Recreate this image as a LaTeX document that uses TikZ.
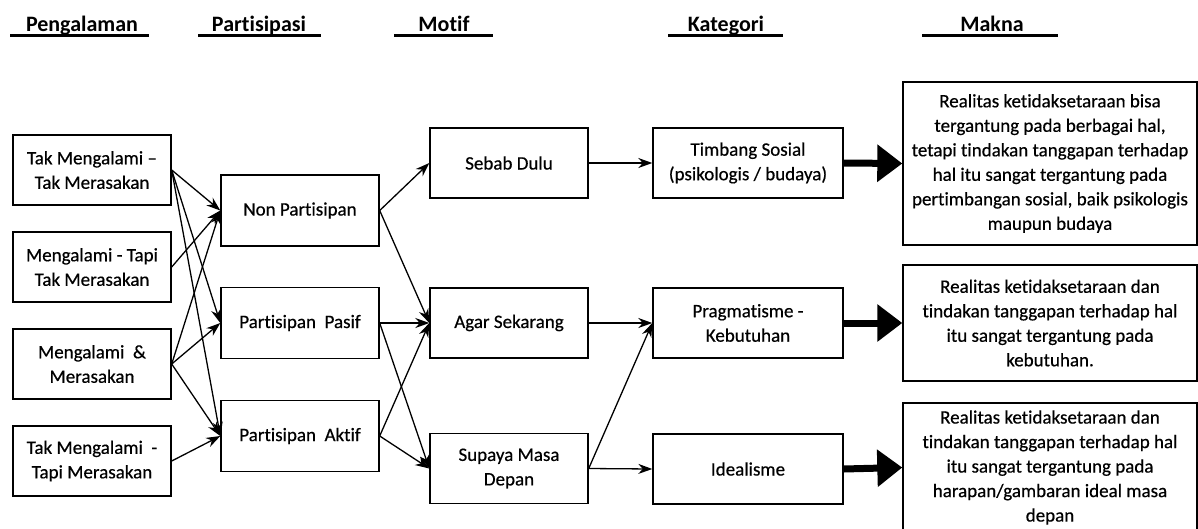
\documentclass[tikz,border=0pt]{standalone}
\usepackage{fontspec}
\setmainfont[Ligatures=NoCommon]{Carlito}
\newfontfamily\boxfont[FakeBold=0.5,Ligatures=NoCommon]{Carlito}
\usetikzlibrary{arrows.meta}
\begin{document}
\begin{tikzpicture}[x=1pt,y=-1pt,
  box/.style={draw, line width=1.4pt, inner sep=2pt, align=center, font=\boxfont\fontsize{19}{24.5}\selectfont},
  cbox/.style={box, minimum width=158pt, minimum height=70pt},
  kbox/.style={box, minimum width=190pt, minimum height=70pt},
  mbox/.style={box, minimum width=294pt},
  hdr/.style={font=\fontsize{22}{25}\selectfont\bfseries, anchor=base, inner sep=0pt},
  conn/.style={line width=1.3pt, -{Stealth[length=14pt,width=10pt,inset=4.5pt]}},
  bigarrow/.style={line width=7pt, -{Triangle[length=25pt,width=36pt]}},
  uline/.style={line width=2.2pt}
]
\useasboundingbox (0,0) rectangle (1198,528);

% headers
\node[hdr] (h1) at (82,31) {Pengalaman};
\node[hdr] (h2) at (259,31) {Partisipasi};
\node[hdr] (h3) at (444,31) {Motif};
\node[hdr] (h4) at (726,31) {Kategori};
\node[hdr] (h5) at (992,31) {Makna};
\draw[uline] (10,35.5) -- (149,35.5);
\draw[uline] (198,35.5) -- (321,35.5);
\draw[uline] (394,35.5) -- (493,35.5);
\draw[uline] (668,35.5) -- (783,35.5);
\draw[uline] (922,35.5) -- (1058,35.5);

% column 1
\node[cbox] (e1) at (92,170) {Tak Mengalami –\\Tak Merasakan};
\node[cbox] (e2) at (92,267) {Mengalami - Tapi\\Tak Merasakan};
\node[cbox] (e3) at (92,364) {Mengalami \ \&\\Merasakan};
\node[cbox] (e4) at (92,461) {Tak Mengalami \ -\\Tapi Merasakan};

% column 2
\node[cbox, minimum height=71pt] (p1) at (300,210.5) {Non Partisipan};
\node[cbox, minimum height=71pt] (p2) at (300,323) {Partisipan \ Pasif};
\node[cbox, minimum height=71pt] (p3) at (300,436) {Partisipan \ Aktif};

% column 3
\node[cbox] (m1) at (509,163) {Sebab Dulu};
\node[cbox] (m2) at (509,323) {Agar Sekarang};
\node[cbox] (m3) at (509,468.5) {Supaya Masa\\Depan};

% column 4
\node[kbox] (k1) at (748,163) {Timbang Sosial\\(psikologis / budaya)};
\node[kbox] (k2) at (748,323) {Pragmatisme -\\Kebutuhan};
\node[kbox] (k3) at (748,469) {Idealisme};

% column 5
\node[mbox, minimum height=163pt] (r1) at (1050,163.5) {Realitas ketidaksetaraan bisa\\tergantung pada berbagai hal,\\tetapi tindakan tanggapan terhadap\\hal itu sangat tergantung pada\\pertimbangan sosial, baik psikologis\\maupun budaya};
\node[mbox, minimum height=116pt] (r2) at (1050,323) {Realitas ketidaksetaraan dan\\tindakan tanggapan terhadap hal\\itu sangat tergantung pada\\kebutuhan.};
\node[mbox, minimum height=129pt] (r3) at (1050,467.5) {Realitas ketidaksetaraan dan\\tindakan tanggapan terhadap hal\\itu sangat tergantung pada\\harapan/gambaran ideal masa\\depan};

% connectors column 1 -> 2
\draw[conn] (e1.east) -- (p1.west);
\draw[conn] (e1.east) -- (p2.west);
\draw[conn] (e1.east) -- (p3.west);
\draw[conn] (e2.east) -- (p1.west);
\draw[conn] (e3.east) -- (p1.west);
\draw[conn] (e3.east) -- (p2.west);
\draw[conn] (e3.east) -- (p3.west);
\draw[conn] (e4.east) -- (p3.west);

% column 2 -> 3
\draw[conn] (p1.east) -- (m1.west);
\draw[conn] (p1.east) -- (m2.west);
\draw[conn] (p2.east) -- (m2.west);
\draw[conn] (p2.east) -- (m3.west);
\draw[conn] (p3.east) -- (m2.west);
\draw[conn] (p3.east) -- (m3.west);

% column 3 -> 4
\draw[conn] (m1.east) -- (k1.west);
\draw[conn] (m2.east) -- (k2.west);
\draw[conn] (m3.east) -- (k2.west);
\draw[conn] (m3.east) -- (k3.west);

% column 4 -> 5
\draw[bigarrow] (k1.east) -- (r1.west);
\draw[bigarrow] (k2.east) -- (r2.west);
\draw[bigarrow] (k3.east) -- (r3.west);
\end{tikzpicture}
\end{document}
